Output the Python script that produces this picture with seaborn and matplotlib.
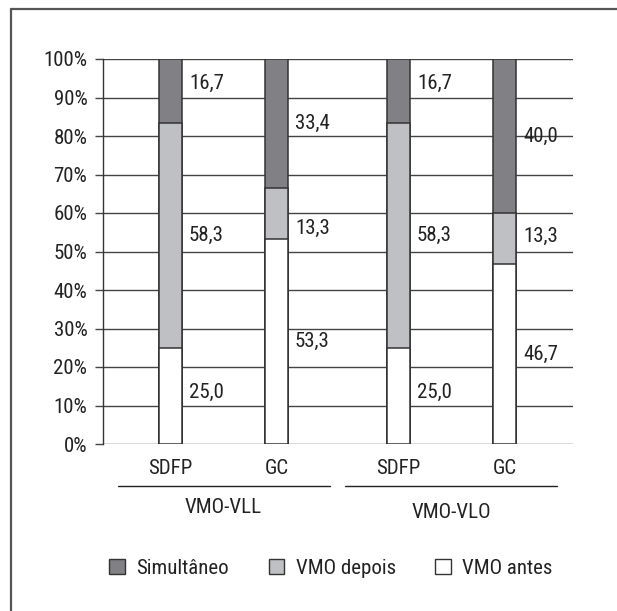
import matplotlib
matplotlib.use("Agg")
import matplotlib.pyplot as plt
import seaborn as sns
import pandas as pd
import numpy as np
from matplotlib import font_manager
from matplotlib.patches import Patch
from matplotlib.lines import Line2D
from matplotlib.transforms import blended_transform_factory

# ---------------- data ----------------
groups = ["VMO-VLL", "VMO-VLO"]
categories = ["SDFP", "GC", "SDFP", "GC"]
series = ["Simultâneo", "VMO depois", "VMO antes"]
simultaneo = [16.7, 33.4, 16.7, 40.0]
vmo_depois = [58.3, 13.3, 58.3, 13.3]
vmo_antes = [25.0, 53.3, 25.0, 46.7]
yticks = [0, 10, 20, 30, 40, 50, 60, 70, 80, 90, 100]
ytick_labels = [f"{v}%" for v in yticks]

# ---------------- style ----------------
sns.set_style("white")
entries = font_manager.fontManager.ttflist
names = {f.name for f in entries}
stretch = "normal"
FS = 13
if "Liberation Sans Narrow" in names:
    fam = "Liberation Sans Narrow"; FS = 14.5
elif "Roboto Condensed" in names:
    fam = "Roboto Condensed"; FS = 15
elif any(f.name == "Noto Sans" and str(f.stretch) in ("condensed", "semi-condensed")
         for f in entries):
    fam = "Noto Sans"; FS = 13.5
    stretch = "condensed" if any(f.name == "Noto Sans" and str(f.stretch) == "condensed"
                                 for f in entries) else "semi-condensed"
else:
    fam = "Liberation Sans"
plt.rcParams["font.family"] = [fam, "DejaVu Sans"]
plt.rcParams["font.stretch"] = stretch
TXT = "#222222"

c_sim = "#808085"
c_dep = "#bfc0c4"
c_ant = "#ffffff"
edge = "#333333"

positions = [0.0, 1.0, 2.15, 3.15]
bar_w = 0.217
# small vertical nudges (in %) of value labels: (antes, depois, simultaneo)
label_nudge = [(1.0, 0.0, 2.0), (0.0, -4.0, 0.0), (1.0, 0.0, 2.0), (0.0, 0.5, 0.0)]

fig = plt.figure(figsize=(6.17, 6.11), dpi=100)
W, H = 617, 611
ax = fig.add_axes([103 / W, (H - 444) / H, 470 / W, 385 / H])

sim = np.array(simultaneo)
dep = np.array(vmo_depois)
ant = np.array(vmo_antes)
df = pd.DataFrame({
    "pos": positions,
    "top": ant + dep + sim,
    "mid": ant + dep,
    "low": ant,
})

for col, colr in [("top", c_sim), ("mid", c_dep), ("low", c_ant)]:
    sns.barplot(data=df, x="pos", y=col, native_scale=True, width=bar_w,
                color=colr, saturation=1, edgecolor=edge, linewidth=1.1,
                errorbar=None, ax=ax, zorder=3)

ax.set_xlim(-0.637, 3.797)
ax.set_ylim(0, 100)
ax.set_yticks(yticks)
ax.set_yticklabels(ytick_labels)
ax.set_xticks(positions)
ax.set_xticklabels(categories)
ax.set_xlabel("")
ax.set_ylabel("")

ax.yaxis.grid(True, color="#444444", linewidth=1.0)
ax.xaxis.grid(False)
ax.set_axisbelow(True)
for s in ["top", "right", "bottom"]:
    ax.spines[s].set_visible(False)
ax.spines["left"].set_color("#333333")
ax.spines["left"].set_linewidth(1.0)
ax.spines["left"].set_zorder(4)

ax.tick_params(axis="y", which="both", left=True, length=5.8, width=1.0,
               color="#444444", pad=5.5, labelsize=FS, labelcolor=TXT)
ax.tick_params(axis="x", which="both", bottom=False, length=0, pad=11,
               labelsize=FS, labelcolor=TXT)

# value labels
for i, p in enumerate(positions):
    segs = [(ant[i] / 2, ant[i]),
            (ant[i] + dep[i] / 2, dep[i]),
            (ant[i] + dep[i] + sim[i] / 2, sim[i])]
    for (ymid, v), dy in zip(segs, label_nudge[i]):
        ax.text(p + bar_w / 2 + 7 / 106, ymid + dy, f"{v:.1f}".replace(".", ","),
                ha="left", va="center", fontsize=FS, color=TXT, zorder=5)

# group lines and labels
trans = blended_transform_factory(ax.transData, ax.transAxes)
group_centers = [(positions[0] + positions[1]) / 2, (positions[2] + positions[3]) / 2]
group_label_y = [-0.166, -0.177]
for gc, gname, gy in zip(group_centers, groups, group_label_y):
    ax.plot([gc - 1.0, gc + 1.0], [-0.109, -0.109], transform=trans,
            color="#222222", linewidth=1.0, clip_on=False)
    ax.text(gc, gy, gname, transform=trans, ha="center", va="center",
            fontsize=FS, color=TXT)

# legend
handles = [Patch(facecolor=c, edgecolor=edge, linewidth=1.0)
           for c in [c_sim, c_dep, c_ant]]
leg = fig.legend(handles, series, loc="center", bbox_to_anchor=(331 / W, 1 - 568 / H),
                 ncol=3, frameon=False, fontsize=FS, handlelength=0.75,
                 handleheight=0.75, handletextpad=0.55, columnspacing=1.9)
for t in leg.get_texts():
    t.set_color(TXT)

# outer frame: only top and left edges are visible in the picture
xl = 11 / W
yt = 1 - 9 / H
fig.add_artist(Line2D([xl, xl], [-0.01, yt], transform=fig.transFigure,
                      color="#555555", linewidth=1.6))
fig.add_artist(Line2D([xl, 1.01], [yt, yt], transform=fig.transFigure,
                      color="#555555", linewidth=1.6))

fig.savefig("out.png", dpi=100)
